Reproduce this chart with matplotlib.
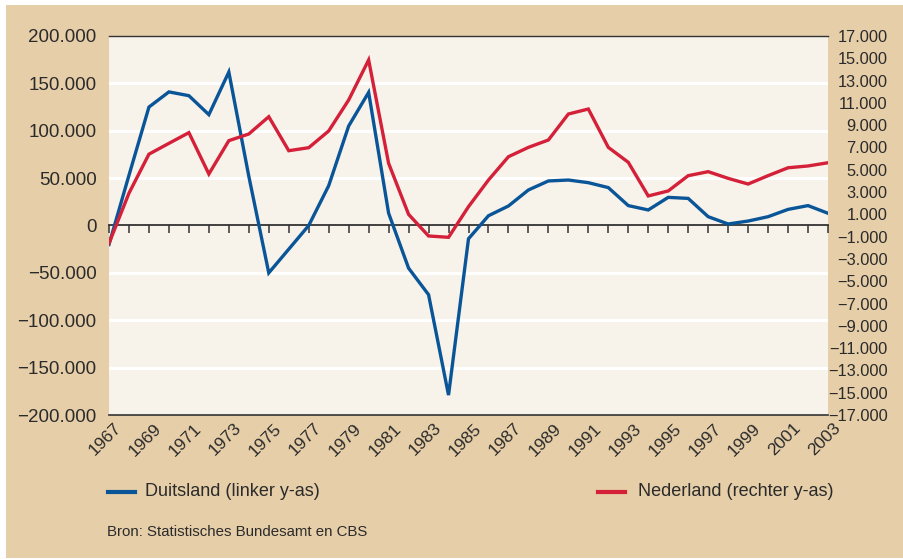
import matplotlib
matplotlib.use("Agg")
import matplotlib.pyplot as plt
import matplotlib.transforms as mtransforms
from matplotlib.patches import Rectangle
from matplotlib.ticker import FuncFormatter

years = list(range(1967, 2004))
duitsland = [-20000, 53000, 125000, 141000, 137000, 117000, 162000, 52000, -50000, -25000,
             0, 42000, 105000, 140500, 13000, -45000, -73000, -179000, -14000, 10300,
             20600, 37500, 47000, 48000, 45200, 40000, 21000, 16400, 29700, 28600,
             9300, 1600, 4700, 9300, 17000, 21000, 12900]
nederland = [-1600, 2900, 6400, 7370, 8330, 4620, 7610, 8210, 9760, 6710,
             6980, 8480, 11260, 14850, 5580, 1000, -940, -1060, 1690, 4080,
             6170, 7010, 7670, 10000, 10450, 7010, 5670, 2650, 3100, 4470,
             4830, 4230, 3720, 4470, 5180, 5340, 5630]

left_ticks = list(range(-200000, 200001, 50000))
right_ticks = list(range(-17000, 17001, 2000))
label_years = years[::2]

TAN = "#E6CEA8"
BG = "#F7F3EB"
BLUE = "#0A5598"
RED = "#D42039"
DARK = "#333333"
TXT = "#2b2b2b"
SANS = "Liberation Sans"


def nl(v, pos=None):
    s = "{:,.0f}".format(abs(v)).replace(",", ".")
    return ("\u2212" + s) if v < 0 else s


fig = plt.figure(figsize=(9.04, 5.59), dpi=100, facecolor="white")
bg = Rectangle((6 / 904, 1 / 559), 898 / 904, 553 / 559,
               transform=fig.transFigure, facecolor=TAN, edgecolor="none", zorder=-10)
fig.add_artist(bg)

ax = fig.add_axes([109 / 904, 1 - 415 / 559, (828 - 109) / 904, (415 - 36) / 559])
ax.set_facecolor(BG)
ax.set_xlim(1967, 2003)
ax.set_ylim(-200000, 200000)

for y in left_ticks:
    if y not in (0, 200000, -200000):
        ax.axhline(y, color="white", lw=2.2, zorder=1)

ax.plot(years, duitsland, color=BLUE, lw=2.4, zorder=3, solid_joinstyle="miter")

for s in ("left", "right"):
    ax.spines[s].set_visible(False)
ax.spines["top"].set_color(DARK)
ax.spines["bottom"].set_color(DARK)
ax.spines["top"].set_linewidth(1.0)
ax.spines["bottom"].set_linewidth(1.2)

ax.set_yticks(left_ticks)
ax.yaxis.set_major_formatter(FuncFormatter(nl))
ax.tick_params(axis="y", length=0, pad=9, labelsize=13.5, labelcolor=TXT)
for t in ax.get_yticklabels():
    t.set_fontfamily(SANS)

ax.set_xticks(label_years)
ax.set_xticklabels([str(y) for y in label_years], rotation=45, ha="right",
                   rotation_mode="anchor", family=SANS, fontsize=12.5, color=TXT)
ax.tick_params(axis="x", length=0, pad=4)
shift = mtransforms.ScaledTranslation(5 / 100, 0, fig.dpi_scale_trans)
for t in ax.get_xticklabels():
    t.set_transform(t.get_transform() + shift)

# zero line with year ticks
zero = ax.secondary_xaxis(0.5)
zero.set_xticks(years)
zero.set_xticklabels([])
zero.tick_params(axis="x", direction="in", length=6, width=1.1, color=DARK)
for s in zero.spines.values():
    s.set_color(DARK)
    s.set_linewidth(1.3)

ax2 = ax.twinx()
ax2.set_ylim(-17000, 17000)
ax2.plot(years, nederland, color=RED, lw=2.4, zorder=4, solid_joinstyle="miter")
for s in ("left", "right", "top", "bottom"):
    ax2.spines[s].set_visible(False)
ax2.set_yticks(right_ticks)
ax2.yaxis.set_major_formatter(FuncFormatter(nl))
ax2.tick_params(axis="y", length=0, pad=43, labelsize=11.8, labelcolor=TXT)
for t in ax2.get_yticklabels():
    t.set_horizontalalignment("right")
    t.set_fontfamily(SANS)

# legend
fig.add_artist(plt.Line2D([108 / 904, 135 / 904], [1 - 492 / 559] * 2,
                          transform=fig.transFigure, color=BLUE, lw=3))
fig.text(145 / 904, 1 - 492 / 559, "Duitsland (linker y-as)", family=SANS,
         fontsize=13, color=TXT, va="center")
fig.add_artist(plt.Line2D([598 / 904, 625 / 904], [1 - 492 / 559] * 2,
                          transform=fig.transFigure, color=RED, lw=3))
fig.text(638 / 904, 1 - 492 / 559, "Nederland (rechter y-as)", family=SANS,
         fontsize=13, color=TXT, va="center")
fig.text(107 / 904, 1 - 532 / 559, "Bron: Statistisches Bundesamt en CBS",
         family=SANS, fontsize=10.8, color=TXT, va="center")

fig.savefig("out.png", dpi=100, facecolor="white")
